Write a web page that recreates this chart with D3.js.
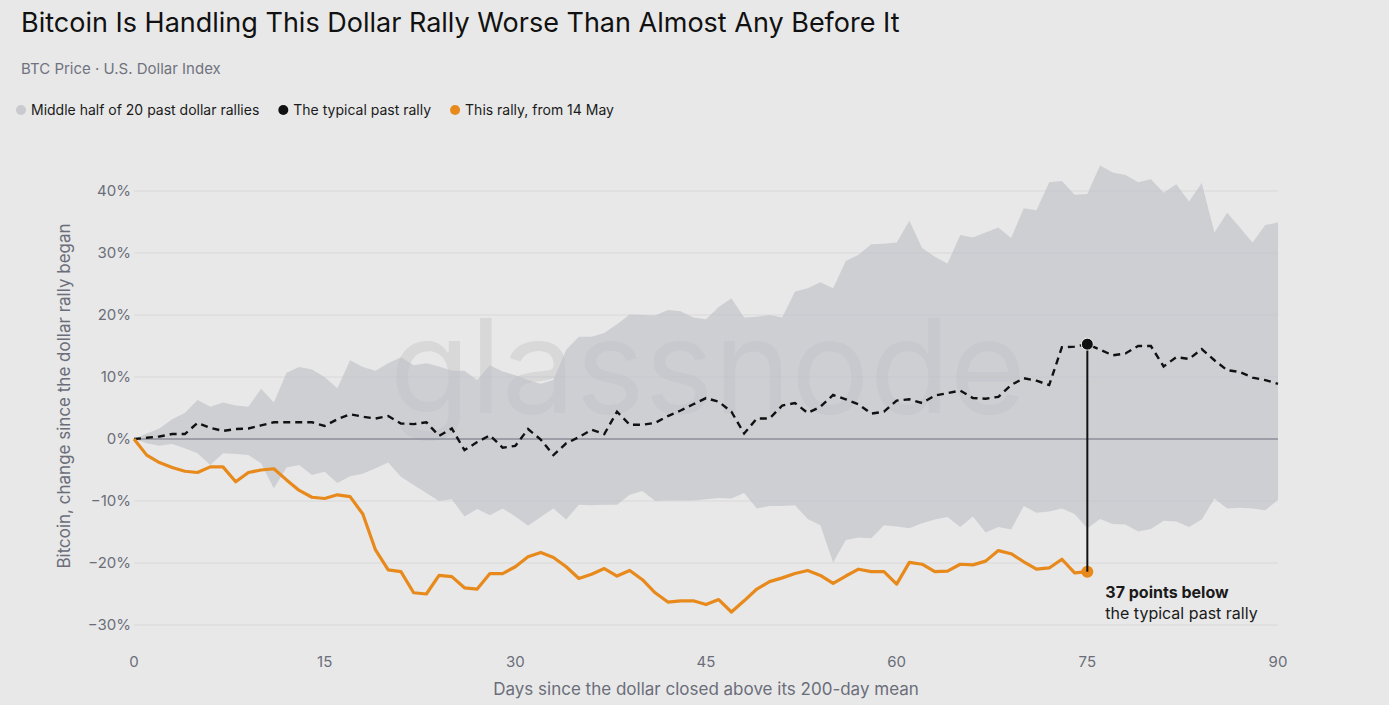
<!DOCTYPE html>
<html>
<head>
<meta charset="utf-8">
<script src="https://cdn.jsdelivr.net/npm/d3@7"></script>
<style>
  body { margin: 0; background: #e8e8e8; }
  svg { display: block; font-family: Inter, "Noto Sans", sans-serif; }
</style>
</head>
<body>
<svg id="chart" width="1389" height="705"></svg>
<script>
// days 0..90, % change in BTC since the rally began
const upper = [0,0.9,1.7,3.2,4.2,6.3,5.2,5.9,5.4,5.2,8.1,
  5.9,10.7,11.6,11.2,10.0,8.2,12.7,11.6,11.0,12.2,
  13.2,11.9,12.2,11.7,11.0,11.0,9.5,11.9,10.9,10.3,
  9.5,8.9,9.5,14.4,16.5,16.5,17.1,18.5,20.1,20.0,
  19.9,20.8,20.6,19.6,19.3,21.3,22.7,19.6,19.7,20.0,
  19.6,23.8,24.3,25.3,24.3,28.7,29.7,31.4,31.5,31.7,
  35.2,30.8,29.4,28.3,32.9,32.5,33.3,34.1,32.4,37.2,
  36.9,41.4,41.6,39.4,39.5,44.1,43.0,42.6,41.4,41.9,
  39.7,41.1,38.3,41.3,33.3,36.5,34.1,31.7,34.5,34.9];

const lower = [0,-0.7,-1.1,-0.8,-1.5,-2.3,-4.2,-2.3,-2.4,-2.6,-3.9,
  -8.0,-4.6,-4.2,-5.8,-5.3,-7.1,-6.0,-5.6,-4.7,-3.8,
  -6.1,-7.4,-8.7,-10.0,-9.7,-12.5,-11.3,-12.3,-11.2,-12.5,
  -14.0,-12.6,-11.2,-13.0,-10.6,-10.7,-10.6,-10.6,-9.0,-8.4,
  -10.0,-9.9,-9.9,-9.9,-9.7,-9.5,-9.6,-8.7,-11.2,-10.8,
  -10.8,-10.7,-12.9,-13.9,-19.9,-16.3,-15.9,-16.0,-13.9,-14.1,
  -14.4,-13.6,-13.0,-12.6,-14.2,-12.5,-15.1,-14.2,-14.6,-10.8,
  -11.9,-11.7,-11.2,-12.1,-14.4,-12.9,-13.7,-13.8,-14.9,-14.5,
  -13.2,-13.3,-14.2,-13.0,-9.6,-11.2,-11.1,-11.2,-11.5,-9.8];

const median = [0,0.2,0.4,0.8,0.8,2.6,1.8,1.3,1.6,1.7,2.2,
  2.7,2.7,2.7,2.7,2.1,3.2,4.0,3.6,3.3,3.7,
  2.5,2.4,2.7,0.5,1.7,-1.8,-0.5,0.6,-1.4,-1.1,
  1.6,-0.1,-2.6,-0.7,0.3,1.5,0.8,4.4,2.3,2.3,
  2.6,3.7,4.6,5.6,6.6,6.0,4.4,0.9,3.3,3.3,
  5.4,5.8,4.2,5.2,7.1,6.4,5.6,4.1,4.4,6.2,
  6.4,5.8,7.0,7.4,7.8,6.6,6.5,6.8,8.7,9.8,
  9.4,8.7,14.8,14.9,15.3,14.4,13.5,13.8,15.0,15.0,
  11.7,13.2,12.9,14.5,12.7,11.1,10.8,9.9,9.5,8.9];

// this rally, days 0..75
const current = [0,-2.6,-3.8,-4.6,-5.2,-5.4,-4.5,-4.5,-6.9,-5.4,-5.0,
  -4.8,-6.6,-8.3,-9.4,-9.6,-9.0,-9.3,-12.1,-17.9,-21.1,
  -21.4,-24.8,-25.0,-22.0,-22.2,-24.0,-24.2,-21.7,-21.7,-20.6,
  -19.0,-18.3,-19.1,-20.6,-22.5,-21.8,-20.9,-22.1,-21.2,-22.7,
  -24.8,-26.3,-26.1,-26.1,-26.7,-25.9,-27.9,-26.1,-24.2,-23.0,
  -22.4,-21.7,-21.2,-22.0,-23.3,-22.1,-21.0,-21.4,-21.4,-23.4,
  -19.9,-20.2,-21.4,-21.3,-20.2,-20.3,-19.7,-18.0,-18.5,-19.8,
  -21.0,-20.8,-19.4,-21.6,-21.4];

const xTicks = [0,15,30,45,60,75,90];
const yTicks = [-30,-20,-10,0,10,20,30,40];
const legendItems = ["Middle half of 20 past dollar rallies","The typical past rally","This rally, from 14 May"];
const legendColors = ["#c9cacf","#111111","#e8891c"];
const markDay = 75;

const svg = d3.select("#chart");

const x = d3.scaleLinear().domain([0,90]).range([134,1278]);
const y = d3.scaleLinear().domain([-30,40]).range([625,191]);

// title block
svg.append("text").attr("x",21).attr("y",32)
  .attr("font-size",27).attr("fill","#111")
  .text("Bitcoin Is Handling This Dollar Rally Worse Than Almost Any Before It");
svg.append("text").attr("x",21).attr("y",74)
  .attr("font-size",15).attr("fill","#70737f")
  .text("BTC Price · U.S. Dollar Index");

// legend, laid out by measured text width
const legend = svg.append("g").attr("transform","translate(21,110)");
let lx = 0;
legendItems.forEach((label,i)=>{
  const g = legend.append("g").attr("transform",`translate(${lx},0)`);
  g.append("circle").attr("r",5).attr("fill",legendColors[i]);
  const t = g.append("text").attr("x",10).attr("y",5)
    .attr("font-size",14).attr("fill","#1a1a1a").text(label);
  lx += 10 + t.node().getComputedTextLength() + 24;
});

// grid
svg.append("g").selectAll("line").data(yTicks.filter(d=>d!==0)).enter()
  .append("line")
  .attr("x1",x(0)).attr("x2",x(90))
  .attr("y1",d=>y(d)).attr("y2",d=>y(d))
  .attr("stroke","#d8d8da").attr("stroke-width",1.2);

// watermark
svg.append("text").attr("x",708).attr("y",413)
  .attr("text-anchor","middle")
  .attr("font-size",131).attr("font-weight",400)
  .attr("fill","#5f5f66").attr("fill-opacity",0.11)
  .text("glassnode");

// band
const band = d3.area()
  .x((d,i)=>x(i))
  .y0((d,i)=>y(lower[i]))
  .y1(d=>y(d));
svg.append("path").datum(upper)
  .attr("d",band)
  .attr("fill","#bfc0c6").attr("fill-opacity",0.62);

// zero line
svg.append("line")
  .attr("x1",x(0)).attr("x2",x(90))
  .attr("y1",y(0)).attr("y2",y(0))
  .attr("stroke","#8d8e98").attr("stroke-width",1.5);

const line = d3.line().x((d,i)=>x(i)).y(d=>y(d));

svg.append("path").datum(median)
  .attr("d",line).attr("fill","none")
  .attr("stroke","#111").attr("stroke-width",2.4)
  .attr("stroke-dasharray","7,5");

svg.append("path").datum(current)
  .attr("d",line).attr("fill","none")
  .attr("stroke","#e8891c").attr("stroke-width",3.2)
  .attr("stroke-linejoin","round");

// gap annotation
svg.append("circle")
  .attr("cx",x(markDay)).attr("cy",y(current[markDay]))
  .attr("r",6).attr("fill","#e8891c");
svg.append("line")
  .attr("x1",x(markDay)).attr("x2",x(markDay))
  .attr("y1",y(median[markDay])).attr("y2",y(current[markDay]))
  .attr("stroke","#111").attr("stroke-width",2);
svg.append("circle")
  .attr("cx",x(markDay)).attr("cy",y(median[markDay]))
  .attr("r",6).attr("fill","#111")
  .attr("stroke","#f2f2f2").attr("stroke-width",1);

const gap = Math.round(median[markDay]-current[markDay]);
const note = svg.append("text").attr("x",x(markDay)+18).attr("y",y(current[markDay])+26)
  .attr("font-size",16).attr("fill","#1a1a1a");
note.append("tspan").attr("font-weight",700).text(`${gap} points below`);
note.append("tspan").attr("x",x(markDay)+18).attr("dy",21).text("the typical past rally");

// axes labels
svg.append("g").selectAll("text").data(yTicks).enter()
  .append("text")
  .attr("x",131).attr("y",d=>y(d)+5)
  .attr("text-anchor","end")
  .attr("font-size",15).attr("fill","#6b6e7a")
  .text(d=>(d<0?"\u2212"+Math.abs(d):d)+"%");

svg.append("g").selectAll("text").data(xTicks).enter()
  .append("text")
  .attr("x",d=>x(d)).attr("y",667)
  .attr("text-anchor","middle")
  .attr("font-size",15).attr("fill","#6b6e7a")
  .text(d=>d);

svg.append("text")
  .attr("x",(x(0)+x(90))/2).attr("y",695)
  .attr("text-anchor","middle")
  .attr("font-size",17).attr("fill","#6b6e7a")
  .text("Days since the dollar closed above its 200-day mean");

svg.append("text")
  .attr("transform","translate(70,396) rotate(-90)")
  .attr("text-anchor","middle")
  .attr("font-size",17).attr("fill","#6b6e7a")
  .text("Bitcoin, change since the dollar rally began");
</script>
</body>
</html>
